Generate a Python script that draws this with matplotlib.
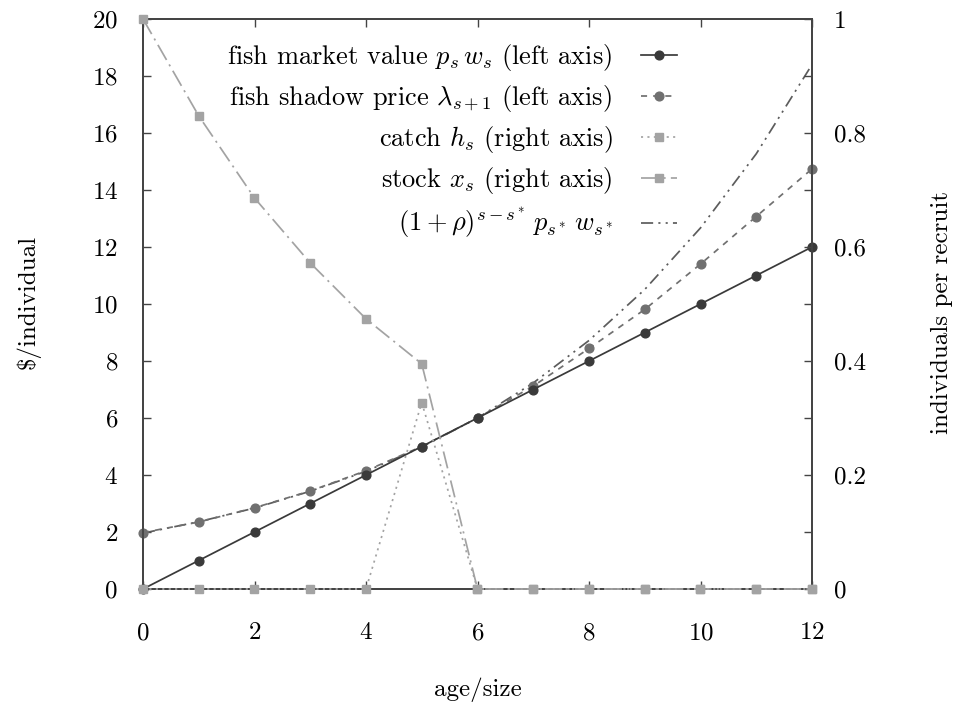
import matplotlib
matplotlib.use("Agg")
import matplotlib.pyplot as plt
import numpy as np

plt.rcParams["font.family"] = ["cmr10", "DejaVu Serif"]
plt.rcParams["mathtext.fontset"] = "cm"
plt.rcParams["axes.formatter.use_mathtext"] = True
plt.rcParams["axes.unicode_minus"] = False

# age/size classes
age = [0, 1, 2, 3, 4, 5, 6, 7, 8, 9, 10, 11, 12]

# left axis ($/individual)
market_value = [0, 1, 2, 3, 4, 5, 6, 7, 8, 9, 10, 11, 12]
shadow_price = [1.98, 2.35, 2.85, 3.44, 4.15, 5.0, 6.0, 7.12, 8.44, 9.81, 11.4, 13.07, 14.74]
discounted_value = [1.96, 2.36, 2.84, 3.43, 4.13, 4.98, 6.0, 7.23, 8.72, 10.51, 12.67, 15.27, 18.4]

# right axis (individuals per recruit)
catch = [0, 0, 0, 0, 0, 0.327, 0, 0, 0, 0, 0, 0, 0]
stock = [1.0, 0.83, 0.686, 0.572, 0.474, 0.395, 0, 0, 0, 0, 0, 0, 0]

left_ticks = [0, 2, 4, 6, 8, 10, 12, 14, 16, 18, 20]
right_ticks = [0, 0.2, 0.4, 0.6, 0.8, 1.0]
right_tick_labels = ["0", "0.2", "0.4", "0.6", "0.8", "1"]
x_ticks = [0, 2, 4, 6, 8, 10, 12]

labels = [
    r"fish market value $p_s\,w_s$ (left axis)",
    r"fish shadow price $\lambda_{s+1}$ (left axis)",
    r"catch $h_s$ (right axis)",
    r"stock $x_s$ (right axis)",
    r"$(1+\rho)^{s-s^*}\,p_{s^*}\,w_{s^*}$",
]

W, H = 958, 705
fig = plt.figure(figsize=(W / 100, H / 100), dpi=100)
x0, x1, y0, y1 = 143, 812, 19, 589
ax = fig.add_axes([x0 / W, 1 - y1 / H, (x1 - x0) / W, (y1 - y0) / H])
ax2 = ax.twinx()

c_market = "#3a3a3a"
c_shadow = "#707070"
c_square = "#a3a3a3"
c_exp = "#5c5c5c"
c_axis = "#444444"
lw = 1.25

h_market, = ax.plot(age, market_value, color=c_market, lw=lw, marker="o", ms=6.3,
                    clip_on=False, zorder=5)
h_shadow, = ax.plot(age, shadow_price, color=c_shadow, lw=lw, ls=(0, (3.5, 3.5)),
                    marker="o", ms=6.3, clip_on=False, zorder=4)
h_exp, = ax.plot(age, discounted_value, color=c_exp, lw=lw,
                 ls=(0, (7, 3, 1.2, 3, 1.2, 3)), zorder=3)

h_catch, = ax2.plot(age, catch, color=c_square, lw=lw, ls=(0, (1.2, 2.5)),
                    marker="s", ms=6, clip_on=False, zorder=3)
h_stock, = ax2.plot(age, stock, color=c_square, lw=lw, ls=(0, (10, 3, 1.2, 3)),
                    marker="s", ms=6, clip_on=False, zorder=3)

ax.set_xlim(0, 12)
ax.set_ylim(0, 20)
ax2.set_ylim(0, 1)

ax.set_xticks(x_ticks)
ax.set_yticks(left_ticks)
ax2.set_yticks(right_ticks)
ax2.set_yticklabels(right_tick_labels)
ax2.set_yticks(np.arange(0.1, 1.0, 0.2), minor=True)

fs = 18
ax.tick_params(axis="x", direction="in", top=True, length=6, width=1, pad=24,
               labelsize=fs, colors=c_axis, labelcolor="black")
ax.tick_params(axis="y", direction="in", length=6, width=1, pad=18,
               labelsize=fs, colors=c_axis, labelcolor="black")
ax2.tick_params(axis="y", which="both", direction="in", length=6, width=1, pad=16,
                labelsize=fs, colors=c_axis, labelcolor="black")
ax2.tick_params(axis="y", which="minor", labelright=False)

for a in (ax, ax2):
    for s in a.spines.values():
        s.set_color(c_axis)
        s.set_linewidth(1.3)

leg = ax.legend([h_market, h_shadow, h_catch, h_stock, h_exp], labels,
                loc="upper right",
                bbox_to_anchor=((677 - x0) / (x1 - x0), 1 - (42 - y0) / (y1 - y0)),
                markerfirst=False, frameon=False, fontsize=19, handlelength=1.35,
                handletextpad=1.1, labelspacing=0.38, borderaxespad=0, borderpad=0)
leg.set_zorder(10)

fig.text(28 / W, 1 - 302 / H, r"\$/individual", rotation=90, ha="center", va="center",
         fontsize=18)
fig.text(942 / W, 1 - 312 / H, "individuals per recruit", rotation=90, ha="center",
         va="center", fontsize=18)
fig.text((x0 + x1) / 2 / W, 1 - 690 / H, "age/size", ha="center", va="center", fontsize=18)

fig.savefig("out.png", dpi=100)
